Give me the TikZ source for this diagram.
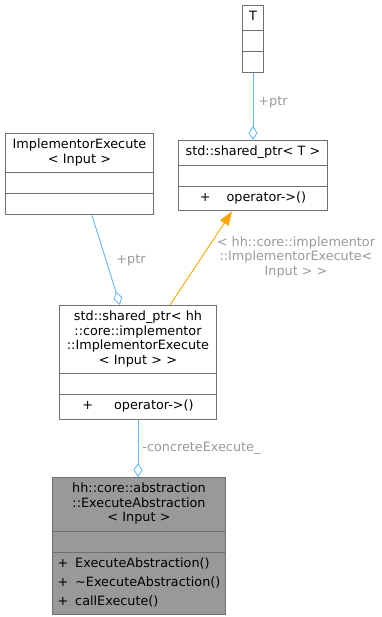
\documentclass[tikz,border=0pt]{standalone}
\usepackage{fontspec}
\newfontfamily\dejavu{DejaVu Sans}
\usetikzlibrary{arrows.meta, shapes.multipart, positioning, calc}
\definecolor{edgeblue}{HTML}{63B8FF}
\definecolor{edgeorange}{HTML}{FFA500}
\definecolor{boxgray}{HTML}{707070}
\definecolor{labelgray}{HTML}{9A9A9A}
\definecolor{mainfill}{HTML}{999999}

\begin{document}
\begin{tikzpicture}[x=1pt,y=-1pt]
    \tikzset{
      classbox/.style={draw=boxgray, line width=1.1pt, fill=white,
        rectangle split, rectangle split parts=3, anchor=north,
        inner xsep=5pt, inner ysep=4.5pt, align=center,
        font=\dejavu\fontsize{12.8}{14.5}\selectfont},
      aggr/.style={edgeblue, line width=0.9pt, -{Diamond[open,length=14pt,width=9pt]}},
      tmpl/.style={edgeorange, line width=0.9pt, -{Triangle[length=14pt,width=10pt]}},
      elabel/.style={labelgray, inner sep=0pt, font=\dejavu\fontsize{12.8}{14.5}\selectfont}
    }
    \def\nil{\rule{0pt}{11pt}}
    \def\meth#1{\makebox[163pt][l]{\strut +\hspace{7pt}#1}}
    \useasboundingbox (0,0) rectangle (381,617);

    \node[classbox, text width=11pt] (T) at (253,5)
      {\strut T\nodepart{two}\nil\nodepart{three}\nil};
    \node[classbox, text width=139pt] (sptrT) at (253,140)
      {\strut std::shared\_ptr< T >\nodepart{two}\nil
       \nodepart{three}\strut +\hspace{16pt}operator->()};
    \node[classbox, text width=138pt] (impl) at (79.5,133)
      {\strut ImplementorExecute\\\strut< Input >\nodepart{two}\nil\nodepart{three}\nil};
    \node[classbox, text width=147pt] (sptrHH) at (138,305)
      {\strut std::shared\_ptr< hh\\\strut::core::implementor\\\strut::ImplementorExecute\\\strut< Input > >
       \nodepart{two}\nil
       \nodepart{three}\strut +\hspace{21pt}operator->()};
    \node[classbox, fill=mainfill, text width=163pt] (exec) at (139,477)
      {\strut hh::core::abstraction\\\strut::ExecuteAbstraction\\\strut< Input >
       \nodepart{two}\nil
       \nodepart{three}\meth{ExecuteAbstraction()}\\[4.5pt]
       \meth{\textasciitilde ExecuteAbstraction()}\\[4.5pt]
       \meth{callExecute()}};

    \draw[aggr] (T.south) -- (sptrT.north) node[elabel, midway, right=5pt, yshift=4pt] {+ptr};
    \draw[aggr] ([xshift=12.5pt]impl.south) -- ([xshift=-18pt]sptrHH.north)
      node[elabel, midway, right=10pt] {+ptr};
    \draw[tmpl] ([xshift=32pt]sptrHH.north) -- ([xshift=-21pt]sptrT.south);
    \node[elabel, align=center] (tlabel) at (296,257)
      {< hh::core::implementor\\::ImplementorExecute<\\Input > >};
    \draw[aggr] (sptrHH.south) -- (sptrHH.south |- exec.north)
      node[elabel, midway, right=4pt] {-concreteExecute\_};
\end{tikzpicture}
\end{document}
